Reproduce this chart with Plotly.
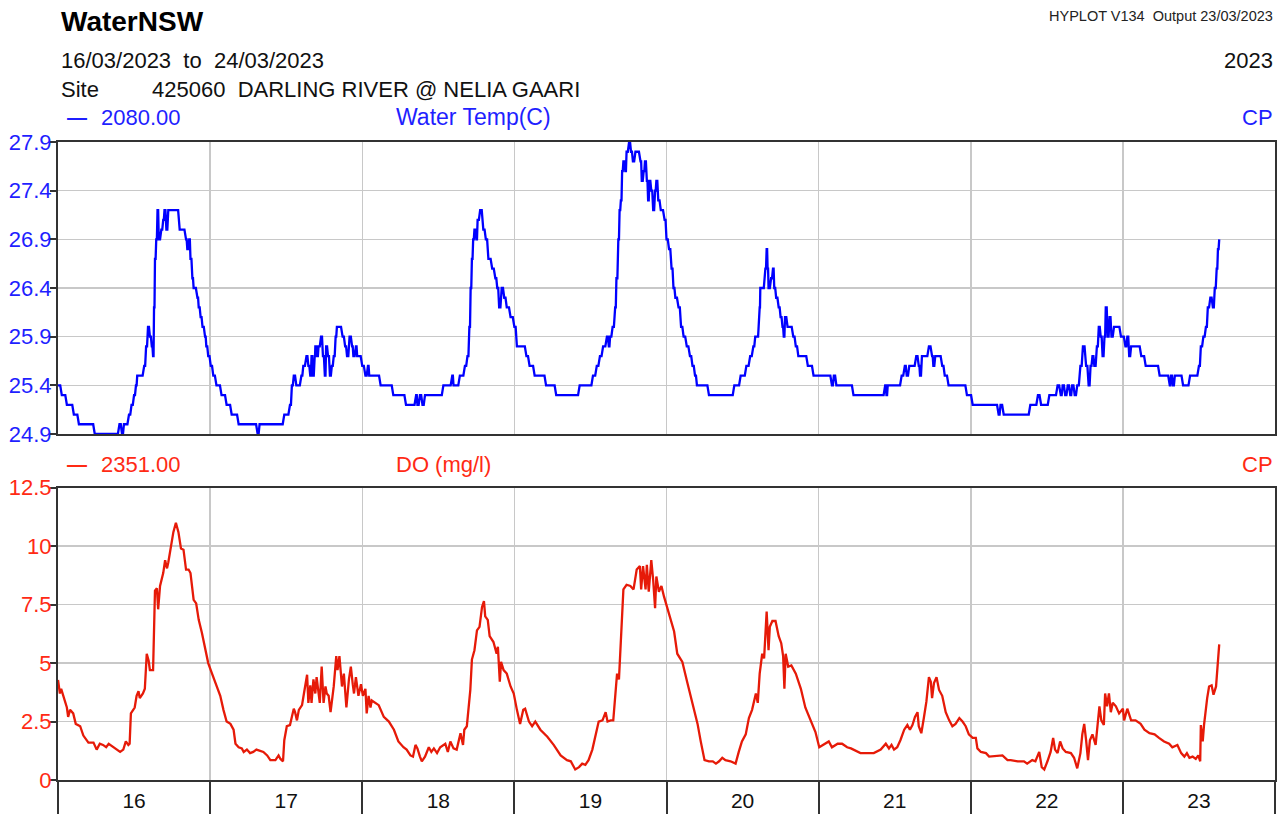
import plotly.graph_objects as go
import pandas as pd

# ---------------- data ----------------
START = "2023-03-16 00:00"
END = "2023-03-24 00:00"

# Water temperature (C): hours since start at which the reading changes, and the new value
temp_hours = [
    0, 0.6, 1.4, 2.5, 3.3, 5.8, 9.7, 10.1, 10.4, 11.2, 11.6, 12.0, 12.3, 12.5, 13.6, 13.9, 14.2, 14.5, 14.8, 15.0,
    15.15, 15.3, 15.5, 15.7, 15.9, 16.3, 16.6, 16.8, 17.1, 17.4, 19.2, 20.2, 20.4, 20.7, 20.9, 21.2, 21.4, 22.0,
    22.2, 22.5, 22.8, 23.2, 23.4, 23.7,
    24.1, 24.5, 25.0, 25.8, 26.6, 27.4, 28.5, 31.5, 31.8, 35.7, 36.6, 36.9, 37.2, 37.6, 38.4, 38.7, 39.2, 39.5,
    39.8, 40.0, 40.2, 40.5, 40.6, 40.9, 41.1, 41.5, 41.8, 42.1, 42.3, 42.6, 42.9, 43.2, 43.5, 43.8, 44.0, 44.9,
    45.3, 45.6, 46.0, 46.4, 46.6, 47.0, 47.2, 48.0, 48.5, 48.9, 49.1,
    50.9, 52.9, 54.9, 56.5, 56.7, 57.1, 57.5, 57.9, 60.8, 62.2, 62.4, 63.4, 64.2, 64.6, 64.9, 65.1, 65.3, 65.5,
    65.7, 66.0, 66.2, 66.6, 67.1, 67.5, 67.9, 68.5, 69.0, 69.3, 69.6, 70.0, 70.4, 70.8, 71.4, 72.0, 72.4, 73.9,
    74.4, 75.2, 77.0, 78.6,
    82.3, 84.4, 85.0, 85.5, 86.0, 86.6, 86.9, 87.1, 87.5, 87.9, 88.1, 88.4, 88.6, 88.8, 89.0, 89.2, 89.5, 89.7,
    90.1, 90.4, 90.7, 91.1, 91.9, 92.1, 92.4, 92.6, 92.9, 93.1, 93.3, 93.6, 93.9, 94.2, 94.4, 94.7, 95.1, 95.7,
    96.0, 96.4, 96.8, 97.1, 97.4, 97.9, 98.3, 98.7, 99.2, 99.7, 100.1, 100.5, 100.8, 102.7,
    106.7, 107.7, 108.6, 109.2, 109.7, 110.0, 110.7, 110.8, 111.6, 111.8, 111.95, 112.1, 112.5, 112.8, 113.0,
    113.3, 113.7, 114.0, 114.3, 114.5, 114.7, 115.1, 116.0, 116.4, 116.8, 118.3, 119.2, 122.1, 122.4, 122.8,
    125.5, 130.5, 130.7, 130.9, 133.1, 133.6, 133.9, 134.3, 135.4, 135.8, 136.0, 136.3, 137.4, 137.9, 138.1,
    138.4, 139.5, 139.9, 140.5, 143.4, 144.3,
    148.4, 148.7, 149.2, 153.4, 154.6, 155.1, 156.4, 157.7, 158.2, 158.5, 158.9, 159.3, 159.7, 160.0, 160.4,
    160.8, 161.3, 161.7, 162.2, 162.6, 162.9, 163.2, 163.5, 163.9, 164.2, 164.5, 164.8, 165.1, 165.3, 165.6,
    165.9, 166.2, 166.6, 167.7, 168.4, 168.7, 169.0, 169.3, 170.9, 171.6,
    173.8, 175.4, 175.6, 175.9, 176.2, 177.5, 178.6, 180.0, 180.3, 180.7, 181.1, 181.4, 181.8, 182.2, 182.5,
    182.8, 183.0, 183.2,
]
temp_values = [
    25.4, 25.3, 25.2, 25.1, 25.0, 24.9, 25.0, 24.9, 25.0, 25.1, 25.2, 25.3, 25.4, 25.5, 25.6, 25.8, 26.0, 25.9, 25.8, 25.7,
    26.2, 26.7, 26.9, 27.2, 26.9, 27.0, 27.1, 27.2, 27.0, 27.2, 27.0, 26.9, 26.8, 26.9, 26.7, 26.5, 26.4, 26.3,
    26.2, 26.1, 26.0, 25.9, 25.8, 25.7,
    25.6, 25.5, 25.4, 25.3, 25.2, 25.1, 25.0, 24.9, 25.0, 25.1, 25.2, 25.4, 25.5, 25.4, 25.5, 25.6, 25.7, 25.6,
    25.5, 25.7, 25.5, 25.7, 25.8, 25.7, 25.8, 25.9, 25.7, 25.5, 25.8, 25.7, 25.5, 25.6, 25.7, 25.9, 26.0, 25.9,
    25.8, 25.7, 25.9, 25.8, 25.7, 25.8, 25.7, 25.6, 25.5, 25.6, 25.5,
    25.4, 25.3, 25.2, 25.3, 25.2, 25.3, 25.2, 25.3, 25.4, 25.5, 25.4, 25.5, 25.6, 25.7, 26.0, 26.4, 26.7, 26.9,
    27.0, 26.9, 27.1, 27.2, 27.0, 26.9, 26.7, 26.6, 26.5, 26.4, 26.2, 26.4, 26.3, 26.2, 26.1, 26.0, 25.8, 25.7,
    25.6, 25.5, 25.4, 25.3,
    25.4, 25.5, 25.6, 25.7, 25.8, 25.9, 25.8, 25.9, 26.0, 26.2, 26.5, 26.9, 27.2, 27.3, 27.6, 27.7, 27.6, 27.8,
    27.9, 27.8, 27.7, 27.8, 27.7, 27.5, 27.6, 27.7, 27.5, 27.3, 27.5, 27.4, 27.2, 27.4, 27.5, 27.3, 27.2, 27.1,
    26.9, 26.8, 26.6, 26.4, 26.3, 26.2, 26.0, 25.9, 25.8, 25.7, 25.6, 25.5, 25.4, 25.3,
    25.4, 25.5, 25.6, 25.7, 25.8, 25.9, 26.2, 26.4, 26.6, 26.8, 26.6, 26.4, 26.5, 26.6, 26.4,
    26.3, 26.2, 26.1, 26.0, 25.9, 26.1, 26.0, 25.9, 25.8, 25.7, 25.6, 25.5, 25.4, 25.5, 25.4,
    25.3, 25.4, 25.3, 25.4, 25.5, 25.6, 25.5, 25.6, 25.7, 25.6, 25.5, 25.7, 25.8, 25.7, 25.6,
    25.7, 25.6, 25.5, 25.4, 25.3, 25.2,
    25.1, 25.2, 25.1, 25.2, 25.3, 25.2, 25.3, 25.4, 25.3, 25.4, 25.3, 25.4, 25.3, 25.4, 25.3,
    25.4, 25.6, 25.8, 25.6, 25.4, 25.6, 25.7, 25.6, 25.8, 26.0, 25.9, 25.7, 25.9, 26.2, 25.9,
    26.1, 25.9, 26.0, 25.9, 25.8, 25.9, 25.7, 25.8, 25.7, 25.6,
    25.5, 25.4, 25.5, 25.4, 25.5, 25.4, 25.5, 25.6, 25.8, 25.9, 26.0, 26.2, 26.3, 26.2, 26.4,
    26.6, 26.8, 26.9,
]

# Dissolved oxygen (mg/l): hours since start, value
do_hours = [
    0, 0.3, 0.5, 0.8, 1.4, 1.6, 1.9, 2.4, 2.8, 3.5, 4.0, 4.8, 5.6, 6.1, 6.6, 7.1, 7.6, 8.0, 8.5, 9.0, 9.8, 10.3,
    10.7, 11.1, 11.3, 11.5, 11.9, 12.1, 12.4, 12.7, 12.9, 13.4, 13.7, 14.0, 14.3, 14.5, 15.0, 15.2, 15.3, 15.6,
    15.8, 16.1, 16.4, 16.6, 16.9, 17.2, 17.4, 17.7, 18.2, 18.6, 19.0, 19.4, 19.8, 20.2, 20.6, 20.9, 21.4, 21.8,
    22.2, 22.7, 23.2, 23.7,
    24.3, 25.05, 25.6, 26.1, 26.6, 27.2, 27.7, 28.0, 28.5, 29.0, 29.3, 29.8, 30.3, 30.8, 31.3, 32.4, 33.0, 33.5,
    34.3, 34.8, 35.1, 35.5, 35.7, 36.1, 36.6, 36.9, 37.2, 37.4, 37.7, 38.0, 38.5, 38.8, 39.3, 39.5, 39.8, 40.0,
    40.3, 40.6, 40.8, 41.3, 41.6, 41.9, 42.2, 42.4, 42.7, 43.0, 43.2, 43.5, 43.9, 44.1, 44.4, 44.8, 45.1, 45.5,
    45.9, 46.2, 46.5, 46.7, 47.0, 47.4, 47.8, 48.1, 48.5, 48.7, 49.0, 49.3, 49.5, 50.05, 50.6, 51.4, 52.2, 53.0,
    53.7,
    54.5, 55.0, 55.6, 56.0, 56.4, 56.7, 57.1, 57.4, 57.9, 58.5, 58.9, 59.3, 59.8, 60.3, 61.1, 61.5, 61.9, 62.4,
    62.9, 63.5, 63.9, 64.1, 64.5, 65.05, 65.3, 65.7, 66.1, 66.5, 66.9, 67.2, 67.4, 67.8, 68.1, 68.7, 69.2, 69.4,
    69.7, 69.9, 70.3, 70.8, 71.4, 71.9, 72.4, 72.9, 73.4, 73.7, 74.3, 74.8, 75.3, 76.1, 77.2,
    78.2, 79.3, 80.3, 80.9, 81.6, 82.2, 82.7, 83.2, 83.7, 84.3, 84.5, 85.0, 85.3, 85.9, 86.4, 86.7, 87.2, 87.6,
    87.9, 88.2, 88.5, 88.9, 89.2, 89.7, 90.3, 90.8, 91.3, 91.8, 92.0, 92.3, 92.7, 92.9, 93.2, 93.6, 93.9, 94.2,
    94.4, 94.8, 95.2, 95.6, 96.1, 96.6, 97.2, 97.7, 98.5, 99.3, 100.1, 100.9, 101.4,
    102.0, 102.7, 103.3, 103.8, 104.3, 104.8, 105.3, 106.1, 106.9, 107.4, 107.9, 108.5, 109.0, 109.5, 110.1,
    110.4, 110.7, 111.1, 111.4, 111.8, 112.1, 112.3, 112.7, 113.2, 113.7, 114.1, 114.4, 114.6, 114.8, 115.2,
    115.7, 116.4, 117.2, 117.9, 118.7, 119.5, 120.1, 120.8, 121.6, 122.1, 123.0, 123.7, 124.5,
    125.1, 126.1, 126.6, 128.7, 129.8, 130.6, 131.1, 131.5, 131.9, 132.4, 132.9, 133.5, 134.0, 134.4, 134.8,
    135.2, 135.6, 135.8, 136.2, 136.6, 137.0, 137.4, 137.7, 137.9, 138.2, 138.6, 139.0, 139.5, 140.05, 140.6,
    141.1, 141.6, 142.2, 142.7, 143.2, 143.7, 144.3, 144.8, 145.05, 145.6, 146.4, 146.9,
    148.2, 149.0, 149.8, 150.3, 151.4, 152.4, 152.9, 153.7, 154.2, 154.8, 155.2, 155.6, 156.1, 156.6, 157.0,
    157.3, 157.7, 158.1, 158.5, 159.0, 159.8, 160.3, 160.8, 161.3, 161.6, 161.9, 162.2, 162.5, 162.8, 163.2,
    163.7, 164.0, 164.3, 164.6, 165.0, 165.2, 165.5, 165.8, 166.1, 166.4, 166.9, 167.4, 168.0, 168.2, 168.7,
    169.3, 170.0, 170.8, 171.4,
    172.2, 173.0, 173.7, 174.5, 175.3, 175.8, 176.6, 177.2, 177.7, 178.1, 178.5, 179.0, 179.5, 179.9, 180.2,
    180.3, 180.6, 180.8, 181.3, 181.6, 182.0, 182.3, 182.7, 182.9, 183.2,
]
do_values = [
    4.28, 3.7, 3.9, 3.6, 3.1, 2.7, 3.0, 2.85, 2.4, 2.3, 1.9, 1.6, 1.6, 1.3, 1.55, 1.5, 1.4, 1.55, 1.45, 1.35, 1.2, 1.3,
    1.65, 1.5, 1.55, 2.85, 3.0, 3.1, 3.6, 3.8, 3.5, 3.7, 3.9, 5.4, 5.1, 4.7, 4.7, 6.6, 8.1, 8.2,
    7.3, 8.3, 8.6, 8.85, 9.4, 9.05, 9.3, 9.85, 10.6, 11.0, 10.6, 9.9, 9.85, 9.0, 9.0, 8.85, 7.7, 7.55,
    6.85, 6.3, 5.6, 5.0,
    4.55, 4.05, 3.6, 3.0, 2.5, 2.4, 2.15, 1.55, 1.4, 1.35, 1.2, 1.3, 1.15, 1.2, 1.3, 1.2, 1.05, 0.85,
    0.85, 1.05, 0.9, 0.8, 1.7, 2.3, 2.35, 2.7, 3.05, 2.9, 2.55, 3.0, 3.2, 3.7, 4.5, 3.3, 4.05, 3.3,
    4.3, 3.7, 4.4, 3.3, 4.85, 3.3, 4.0, 3.7, 3.6, 2.9, 3.3, 4.0, 5.3, 4.7, 5.3, 4.0, 4.55, 3.1,
    4.3, 4.85, 4.1, 3.7, 4.4, 3.6, 4.1, 3.6, 3.9, 2.85, 3.6, 3.1, 3.4, 3.3, 3.2, 2.7, 2.5, 2.15,
    1.65,
    1.4, 1.3, 1.05, 1.0, 1.5, 1.35, 1.0, 0.8, 1.0, 1.4, 1.2, 1.35, 1.15, 1.4, 1.55, 1.2, 1.65, 1.35,
    1.3, 2.0, 1.5, 2.15, 2.3, 3.85, 5.15, 5.55, 6.4, 6.55, 7.4, 7.65, 7.0, 6.85, 6.15, 5.9, 5.4, 5.7,
    4.2, 5.05, 4.7, 4.55, 4.0, 3.7, 3.0, 2.4, 3.0, 3.05, 2.5, 2.3, 2.5, 2.15, 1.85,
    1.5, 1.05, 0.85, 0.8, 0.45, 0.55, 0.7, 0.65, 0.85, 1.3, 1.55, 2.15, 2.5, 2.55, 2.9, 2.5, 2.55, 2.55,
    3.7, 4.55, 4.3, 6.55, 8.15, 8.35, 8.3, 8.15, 9.0, 9.15, 8.15, 9.15, 8.15, 9.2, 8.05, 9.4, 8.55, 7.35,
    8.7, 8.05, 8.3, 7.85, 7.4, 6.85, 6.35, 5.4, 5.05, 4.15, 3.3, 2.4, 1.65,
    0.85, 0.8, 0.8, 0.7, 0.8, 0.95, 0.85, 0.8, 0.7, 1.2, 1.65, 1.95, 2.65, 3.0, 3.7,
    3.3, 4.55, 5.4, 5.2, 7.2, 5.55, 6.55, 6.8, 6.8, 6.15, 5.85, 5.3, 3.9, 5.4, 4.85,
    4.9, 4.55, 3.9, 3.1, 2.55, 2.05, 1.4, 1.5, 1.65, 1.4, 1.55, 1.55, 1.4,
    1.35, 1.2, 1.15, 1.15, 1.3, 1.55, 1.35, 1.5, 1.3, 1.4, 1.7, 2.15, 2.35, 2.15, 2.35,
    2.7, 2.9, 2.3, 2.0, 2.65, 3.35, 4.4, 4.2, 3.5, 4.15, 4.4, 3.85, 3.6, 2.9, 2.55,
    2.3, 2.4, 2.65, 2.5, 2.3, 1.95, 1.8, 1.8, 1.35, 1.2, 1.15, 1.0,
    1.05, 1.05, 0.85, 0.85, 0.8, 0.8, 0.7, 0.85, 0.8, 1.2, 0.55, 0.45, 0.8, 1.2, 1.8,
    1.3, 1.15, 1.65, 1.35, 1.2, 1.15, 0.95, 0.5, 1.15, 1.95, 2.4, 1.7, 0.85, 1.7, 1.95,
    1.5, 2.4, 3.15, 2.55, 2.35, 3.7, 3.15, 3.7, 2.9, 3.3, 3.15, 2.85, 3.05, 2.55, 3.05,
    2.55, 2.55, 2.4, 2.15,
    2.0, 1.95, 1.8, 1.65, 1.55, 1.4, 1.5, 1.15, 1.0, 1.15, 0.95, 1.0, 0.9, 1.05, 0.8,
    2.35, 1.65, 2.35, 3.5, 4.0, 4.05, 3.65, 4.0, 4.7, 5.8,
]

temp_ticks = [24.9, 25.4, 25.9, 26.4, 26.9, 27.4, 27.9]
do_ticks = [0, 2.5, 5, 7.5, 10, 12.5]
do_tick_text = ["0", "2.5", "5", "7.5", "10", "12.5"]

# logger interval (h): a change in the stepped temperature record ramps over one interval
LOG_STEP = 0.25

# ---------------- styling ----------------
W, H = 1286, 814
FONT = "Liberation Sans, Arial, sans-serif"
BLUE = "#0000ff"
BLUE_TXT = "#1f1fff"
RED = "#e61a08"
RED_TXT = "#ff2a14"
GRID = "#c8c8c8"
FRAME = "#333333"
TSZ = 22


def px(x):
    return x / W


def py(y):
    return 1 - y / H


# expand change-points of the quantised temperature record into a ramped step line
th, tv = [temp_hours[0]], [temp_values[0]]
for i in range(1, len(temp_hours)):
    gap = temp_hours[i] - temp_hours[i - 1]
    hold = temp_hours[i] - min(LOG_STEP, gap / 2)
    th.append(hold)
    tv.append(temp_values[i - 1])
    th.append(temp_hours[i])
    tv.append(temp_values[i])

t0 = pd.Timestamp(START)
temp_t = t0 + pd.to_timedelta(th, unit="h")
do_t = t0 + pd.to_timedelta(do_hours, unit="h")

fig = go.Figure()
fig.add_trace(go.Scatter(x=temp_t, y=tv, mode="lines",
                         line=dict(color=BLUE, width=2.3),
                         xaxis="x", yaxis="y", showlegend=False, hoverinfo="skip"))
fig.add_trace(go.Scatter(x=do_t, y=do_values, mode="lines",
                         line=dict(color=RED, width=2.3),
                         xaxis="x2", yaxis="y2", showlegend=False, hoverinfo="skip"))

xbase = dict(type="date", range=[START, END], tick0=START, dtick=86400000,
             showgrid=True, gridcolor=GRID, gridwidth=1.5, zeroline=False,
             showline=True, linecolor=FRAME, linewidth=2, mirror=True,
             domain=[px(58), px(1275)], automargin=False, fixedrange=True)

ybase = dict(showgrid=True, gridcolor=GRID, gridwidth=1.5, zeroline=False,
             showline=True, linecolor=FRAME, linewidth=2, mirror=True,
             ticks="outside", ticklen=6, tickwidth=2, tickcolor=FRAME,
             ticklabelstandoff=-6, automargin=False, fixedrange=True)

fig.update_layout(
    width=W, height=H, autosize=False,
    margin=dict(l=0, r=0, t=0, b=0),
    paper_bgcolor="white", plot_bgcolor="white",
    font=dict(family=FONT),
    xaxis=dict(**xbase, anchor="y", showticklabels=False, ticks=""),
    yaxis=dict(**ybase, anchor="x", domain=[py(434), py(142)], range=[24.9, 27.9],
               tickvals=temp_ticks, ticktext=[f"{v:.1f}" for v in temp_ticks],
               tickfont=dict(size=TSZ, color=BLUE_TXT, family=FONT)),
    xaxis2=dict(**xbase, anchor="y2", ticks="outside", ticklen=34, tickwidth=2,
                tickcolor=FRAME, tickformat="%d", ticklabelmode="period",
                ticklabelstandoff=-33,
                tickfont=dict(size=21, color="#111111", family=FONT)),
    yaxis2=dict(**ybase, anchor="x2", domain=[py(780), py(487.7)], range=[0, 12.5],
                tickvals=do_ticks, ticktext=do_tick_text,
                tickfont=dict(size=TSZ, color=RED_TXT, family=FONT)),
)


def txt(s, x, y, size, color, anchor="left"):
    fig.add_annotation(text=s, x=px(x), y=py(y), xref="paper", yref="paper",
                       xanchor=anchor, yanchor="middle", showarrow=False,
                       font=dict(size=size, color=color, family=FONT))


NB = "\u00a0"
txt("<b>WaterNSW</b>", 59, 22, 28, "#000000")
txt(f"16/03/2023{NB} to{NB} 24/03/2023", 59, 60.5, TSZ, "#111111")
txt("Site", 59, 89.5, TSZ, "#111111")
txt(f"425060{NB} DARLING RIVER @ NELIA GAARI", 150, 89.5, TSZ, "#111111")
txt(f"HYPLOT V134{NB} Output 23/03/2023", 1275, 16, 14.5, "#222222", "right")
txt("2023", 1275, 60.5, TSZ, "#111111", "right")

txt("<b>\u2014</b>", 65, 117, 20, BLUE_TXT)
txt("2080.00", 99, 117.5, TSZ, BLUE_TXT)
txt("Water Temp(C)", 394, 117.5, 23, BLUE_TXT)
txt("CP", 1275, 117.5, TSZ, BLUE_TXT, "right")

txt("<b>\u2014</b>", 65, 464, 20, RED_TXT)
txt("2351.00", 99, 464.5, TSZ, RED_TXT)
txt("DO (mg/l)", 394, 464.5, TSZ, RED_TXT)
txt("CP", 1275, 464.5, TSZ, RED_TXT, "right")

fig.write_html(
    "out.html",
    config={"displayModeBar": False, "staticPlot": True},
    post_script="document.body.style.margin='0';document.body.style.overflow='hidden';",
)
